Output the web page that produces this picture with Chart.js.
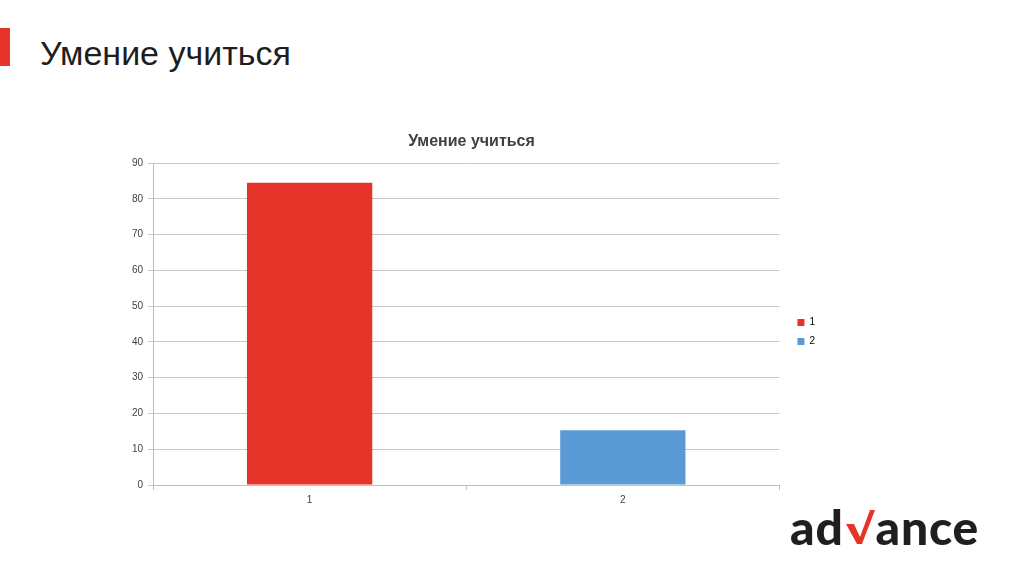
<!DOCTYPE html>
<html>
<head>
<meta charset="utf-8">
<script src="https://cdn.jsdelivr.net/npm/chart.js@4"></script>
<style>
  html, body { margin: 0; padding: 0; background: #fff; }
  body { width: 1024px; height: 574px; position: relative; overflow: hidden; font-family: "Liberation Sans", Arial, sans-serif; }
  .mark { position: absolute; left: 0; top: 28px; width: 10px; height: 38px; background: #e5352a; }
  .slide-title { position: absolute; left: 40px; top: 33px; font-size: 34px; line-height: 40px; color: #1e1e1e; }
  .wrap { position: absolute; left: 0; top: 120px; width: 1024px; height: 390px; }
  .logo { position: absolute; left: 790px; top: 500px; font-family: "Lato", sans-serif; font-weight: 900; font-size: 48px; line-height: 54px; color: #1f1f1f; letter-spacing: 0.8px; white-space: nowrap; }
  .logo svg { display: inline-block; vertical-align: baseline; margin: 0 1px; }
</style>
</head>
<body>
<div class="mark"></div>
<div class="slide-title">Умение учиться</div>
<div class="wrap"><canvas id="myChart"></canvas></div>
<div class="logo">ad<svg width="30" height="36" viewBox="0 0 30 36"><path d="M1 15 L9 15 L15 28 L25 1 L30 1 L17 35 L12 35 Z" fill="#e5352a"/></svg>ance</div>
<script>
document.addEventListener("DOMContentLoaded", () => {

  const categorias = ["1", "2"];
  const valores = [84.5, 15.3];
  const colores = ["#e5352a", "#5b9bd5"];
  const titulo = "Умение учиться";

  const ctx = document.getElementById('myChart').getContext('2d');

  // mueve la leyenda un poco hacia abajo y a la derecha
  const moverLeyenda = {
    id: 'moverLeyenda',
    afterLayout(chart) {
      const lg = chart.legend;
      lg.top += 13; lg.bottom += 13;
      lg.left += 9; lg.right += 9;
    }
  };

  new Chart(ctx, {
    type: 'bar',
    data: {
      labels: categorias,
      datasets: [{
        label: titulo,
        data: valores,
        backgroundColor: colores,
        borderWidth: 0,
        categoryPercentage: 1,
        barPercentage: 0.4
      }]
    },
    options: {
      responsive: true,
      maintainAspectRatio: false,
      animation: false,
      layout: { padding: { top: 8, right: 208, bottom: 0, left: 127 } },
      scales: {
        x: {
          grid: { offset: true, drawOnChartArea: false, tickLength: 5, color: '#bfbfbf' },
          border: { color: '#bfbfbf' },
          ticks: { color: '#404040', font: { family: 'Liberation Sans', size: 10 }, padding: 4 }
        },
        y: {
          min: 0,
          max: 90,
          afterFit: (scale) => { scale.width = 26; },
          grid: { color: '#c8c8c8', tickLength: 5 },
          border: { color: '#bfbfbf' },
          ticks: { stepSize: 10, color: '#404040', font: { family: 'Liberation Sans', size: 10 }, padding: 5 }
        }
      },
      plugins: {
        title: {
          display: true,
          text: titulo,
          color: '#404040',
          font: { family: 'Liberation Sans', size: 16, weight: 'bold' },
          padding: { top: 4, bottom: 12 }
        },
        legend: {
          position: 'right',
          labels: {
            boxWidth: 7,
            boxHeight: 7,
            padding: 9,
            color: '#404040',
            font: { family: 'Liberation Sans', size: 10 },
            generateLabels: (chart) => chart.data.labels.map((l, i) => ({
              text: l,
              fillStyle: colores[i],
              strokeStyle: colores[i],
              lineWidth: 0,
              index: i
            }))
          }
        },
        tooltip: { enabled: false }
      }
    },
    plugins: [moverLeyenda]
  });

});
</script>
</body>
</html>
